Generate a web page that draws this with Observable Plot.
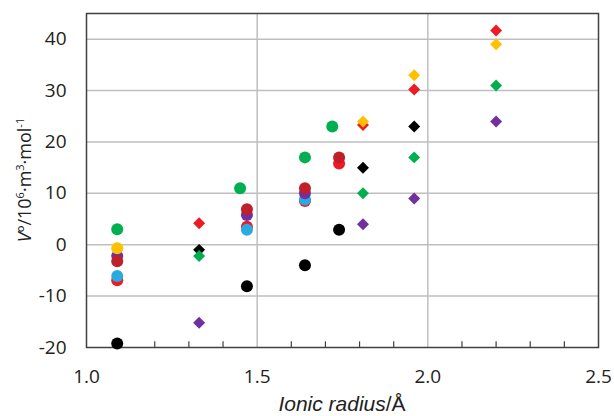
<!DOCTYPE html>
<html>
<head>
<meta charset="utf-8">
<script src="https://cdn.jsdelivr.net/npm/d3@7"></script>
<script src="https://cdn.jsdelivr.net/npm/@observablehq/plot@0.6"></script>
<style>
  html, body { margin: 0; padding: 0; background: #fff; }
  #chart { width: 614px; height: 416px; }
</style>
</head>
<body>
<div id="chart"></div>
<script>
// Circle series: [ionic radius, V°]
const redCircle     = [[1.09, -6.9], [1.47, 3.5], [1.64, 8.5], [1.74, 15.8]];
const blueCircle    = [[1.09, -6.1], [1.47, 2.9], [1.64, 8.8]];
const purpleCircle  = [[1.09, -2.2], [1.47, 5.8], [1.64, 10]];
const darkRedCircle = [[1.09, -3.2], [1.47, 6.9], [1.64, 11], [1.74, 17]];
const yellowCircle  = [[1.09, -0.7]];
const greenCircle   = [[1.09, 3], [1.45, 11], [1.64, 17], [1.72, 23]];
const blackCircle   = [[1.09, -19.2], [1.47, -8.1], [1.64, -4], [1.74, 2.9]];

// Diamond series
const redDiamond    = [[1.33, 4.2], [1.81, 23.3], [1.96, 30.2], [2.2, 41.7]];
const blackDiamond  = [[1.33, -1], [1.81, 15], [1.96, 23]];
const greenDiamond  = [[1.33, -2.2], [1.81, 10], [1.96, 17], [2.2, 31]];
const purpleDiamond = [[1.33, -15.2], [1.81, 4], [1.96, 9], [2.2, 24]];
const yellowDiamond = [[1.81, 24], [1.96, 33], [2.2, 39]];

const xTicks = [1.0, 1.5, 2.0, 2.5];
const yTicks = [-20, -10, 0, 10, 20, 30, 40];
const xMinorTicks = [1.1, 1.2, 1.3, 1.4, 1.6, 1.7, 1.8, 1.9, 2.1, 2.2, 2.3, 2.4];
const xGrid = [1.5, 2.0];
const yGrid = [-10, 0, 10, 20, 30, 40];

const colors = {
  red: "#ed1c24", blue: "#29abe2", purple: "#7030a0", darkRed: "#c0202a",
  yellow: "#ffc000", green: "#00b050", black: "#000000"
};

const circleLayers = [
  [redCircle, colors.red], [blueCircle, colors.blue], [purpleCircle, colors.purple],
  [darkRedCircle, colors.darkRed], [yellowCircle, colors.yellow],
  [greenCircle, colors.green], [blackCircle, colors.black]
];
const diamondLayers = [
  [redDiamond, colors.red], [blackDiamond, colors.black], [greenDiamond, colors.green],
  [purpleDiamond, colors.purple], [yellowDiamond, colors.yellow]
];

const font = "'Open Sans', sans-serif";
const plot = Plot.plot({
  width: 614,
  height: 416,
  marginLeft: 86,
  marginRight: 16,
  marginTop: 13,
  marginBottom: 69,
  style: { fontFamily: font, fontSize: "19px", background: "#fff", color: "#222" },
  x: { domain: [1.0, 2.5] },
  y: { domain: [-20, 45] },
  marks: [
    Plot.ruleY(yGrid, { stroke: "#bfbfbf", strokeWidth: 1.5 }),
    Plot.ruleX(xGrid, { stroke: "#bfbfbf", strokeWidth: 1.5 }),
    Plot.ruleX(xMinorTicks, { y1: -20, y2: -18.9, stroke: "#404040", strokeWidth: 1.2 }),
    Plot.frame({ stroke: "#404040", strokeWidth: 1.5 }),
    Plot.axisX({ ticks: xTicks, tickSize: 0, tickPadding: 22, tickFormat: d3.format(".1f"), label: null, fontSize: 19 }),
    Plot.axisY({ ticks: yTicks, tickSize: 0, tickPadding: 20, tickFormat: d => String(d), label: null, fontSize: 19 }),
    ...circleLayers.map(([data, c]) =>
      Plot.dot(data, { x: d => d[0], y: d => d[1], r: 6, fill: c, symbol: "circle" })),
    ...diamondLayers.map(([data, c]) =>
      Plot.dot(data, { x: d => d[0], y: d => d[1], r: 5.4, fill: c, symbol: "diamond2" }))
  ]
});

const svg = d3.select(plot);
// x title
const xt = svg.append("text")
  .attr("x", 342).attr("y", 411)
  .attr("text-anchor", "middle")
  .attr("font-family", "'Liberation Sans', Arial, sans-serif").attr("font-size", 21).attr("fill", "#222");
xt.append("tspan").attr("font-style", "italic").text("Ionic radius");
xt.append("tspan").text("/Å");

// y title
const yt = svg.append("text")
  .attr("transform", `translate(31,${(13 + 347) / 2}) rotate(-90)`)
  .attr("text-anchor", "middle")
  .attr("font-family", font).attr("font-size", 18).attr("fill", "#222");
yt.append("tspan").attr("font-style", "italic").text("V");
yt.append("tspan").text("º/10");
yt.append("tspan").attr("font-size", 11).attr("dy", -7).text("6");
yt.append("tspan").attr("dy", 7).text("·m");
yt.append("tspan").attr("font-size", 11).attr("dy", -7).text("3");
yt.append("tspan").attr("dy", 7).text("·mol");
yt.append("tspan").attr("font-size", 11).attr("dy", -7).text("-1");

document.getElementById("chart").appendChild(plot);
</script>
</body>
</html>
